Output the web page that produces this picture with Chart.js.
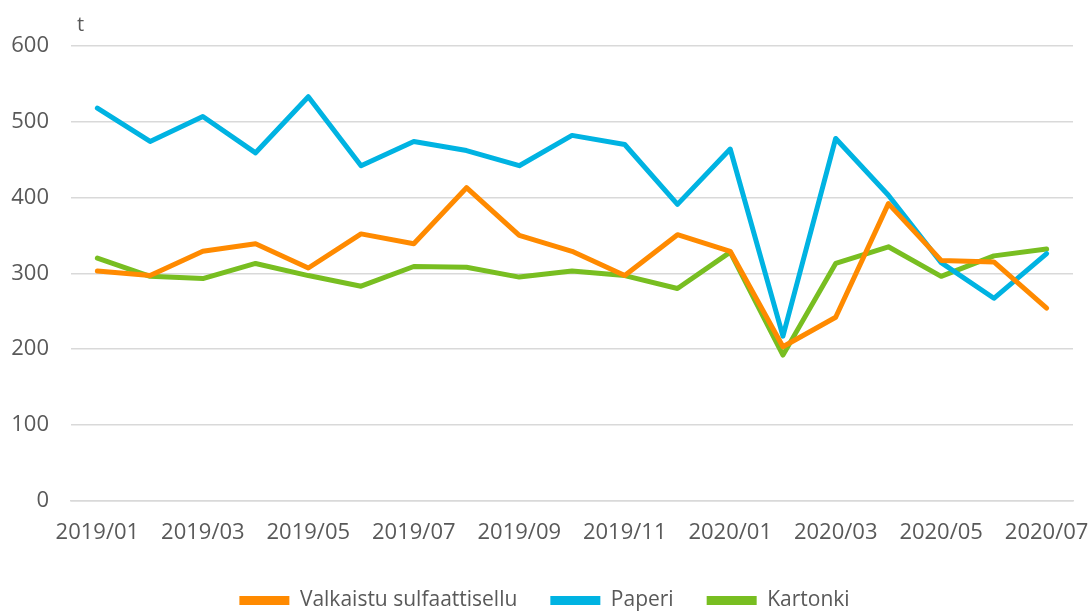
<!DOCTYPE html>
<html>
<head>
<meta charset="utf-8">
<script src="https://cdn.jsdelivr.net/npm/chart.js@4/dist/chart.umd.min.js"></script>
<style>
  html, body { margin: 0; padding: 0; background: #fff; }
  #wrap { width: 1089px; height: 611px; position: relative; }
</style>
</head>
<body>
<div id="wrap"><canvas id="chart"></canvas></div>
<script>
// Monthly tonnes, 2019/01 .. 2020/07
const months = [
  "2019/01", "2019/02", "2019/03", "2019/04", "2019/05", "2019/06", "2019/07",
  "2019/08", "2019/09", "2019/10", "2019/11", "2019/12", "2020/01", "2020/02",
  "2020/03", "2020/04", "2020/05", "2020/06", "2020/07",
];
const sulfaattisellu = [303, 297, 329, 339, 307, 352, 339, 413, 350, 329, 297, 351, 329, 203, 242, 392, 317, 315, 254];
const paperi = [518, 474, 507, 459, 533, 442, 474, 462, 442, 482, 470, 391, 464, 217, 478, 403, 314, 267, 326];
const kartonki = [320, 296, 293, 313, 297, 283, 309, 308, 295, 303, 297, 280, 328, 192, 313, 335, 296, 323, 332];
const yTicks = [0, 100, 200, 300, 400, 500, 600];
const unitLabel = "t";

const ink = "#595959";
const tickFont = { family: "'Open Sans', sans-serif", size: 22 };
const legendFont = { family: "'Open Sans', sans-serif", size: 21 };

function series(label, data, color) {
  return {
    label,
    data,
    borderColor: color,
    backgroundColor: color,
    borderWidth: 5,
    borderJoinStyle: "round",
    borderCapStyle: "round",
    pointRadius: 0,
    tension: 0,
  };
}

// draws the unit ("t") above the y axis
const unitPlugin = {
  id: "unit",
  afterDraw(chart) {
    const { ctx, chartArea } = chart;
    ctx.save();
    ctx.fillStyle = ink;
    ctx.font = "20px 'Open Sans', sans-serif";
    ctx.textAlign = "left";
    ctx.textBaseline = "alphabetic";
    ctx.fillText(unitLabel, chartArea.left + 6, chartArea.top - 15);
    ctx.restore();
  },
};

new Chart(document.getElementById("chart"), {
  type: "line",
  data: {
    labels: months,
    datasets: [
      series("Valkaistu sulfaattisellu", sulfaattisellu, "#FF8A00"),
      series("Paperi", paperi, "#00B3E2"),
      series("Kartonki", kartonki, "#78BE21"),
    ],
  },
  options: {
    responsive: true,
    maintainAspectRatio: false,
    animation: false,
    layout: { padding: { top: 46, left: 0, right: 0, bottom: -10 } },
    scales: {
      x: {
        offset: true,
        grid: { display: false },
        border: { color: "#d9d9d9", width: 1.5 },
        // last label is allowed to run to the canvas edge
        afterFit: (axis) => { axis.paddingRight = 16; axis.paddingLeft = 0; },
        ticks: {
          color: ink,
          font: tickFont,
          autoSkip: false,
          maxRotation: 0,
          padding: 11,
          callback: (v, i) => (i % 2 === 0 ? months[i] : ""),
        },
      },
      y: {
        min: yTicks[0],
        max: yTicks[yTicks.length - 1],
        afterBuildTicks: (axis) => { axis.ticks = yTicks.map((v) => ({ value: v })); },
        afterFit: (axis) => { axis.width = 71; },
        grid: { color: "#d9d9d9", lineWidth: 1.5, drawTicks: false },
        border: { display: false },
        ticks: { color: ink, font: tickFont, padding: 22 },
      },
    },
    plugins: {
      tooltip: { enabled: false },
      legend: {
        position: "bottom",
        labels: {
          color: ink,
          font: legendFont,
          boxWidth: 50,
          boxHeight: 9,
          useBorderRadius: true,
          borderRadius: 4.5,
          padding: 33,
          generateLabels: (chart) =>
            chart.data.datasets.map((ds, i) => ({
              text: ds.label,
              fillStyle: ds.borderColor,
              strokeStyle: ds.borderColor,
              lineWidth: 0,
              fontColor: ink,
              datasetIndex: i,
              hidden: false,
            })),
        },
      },
    },
  },
  plugins: [unitPlugin],
});
</script>
</body>
</html>
